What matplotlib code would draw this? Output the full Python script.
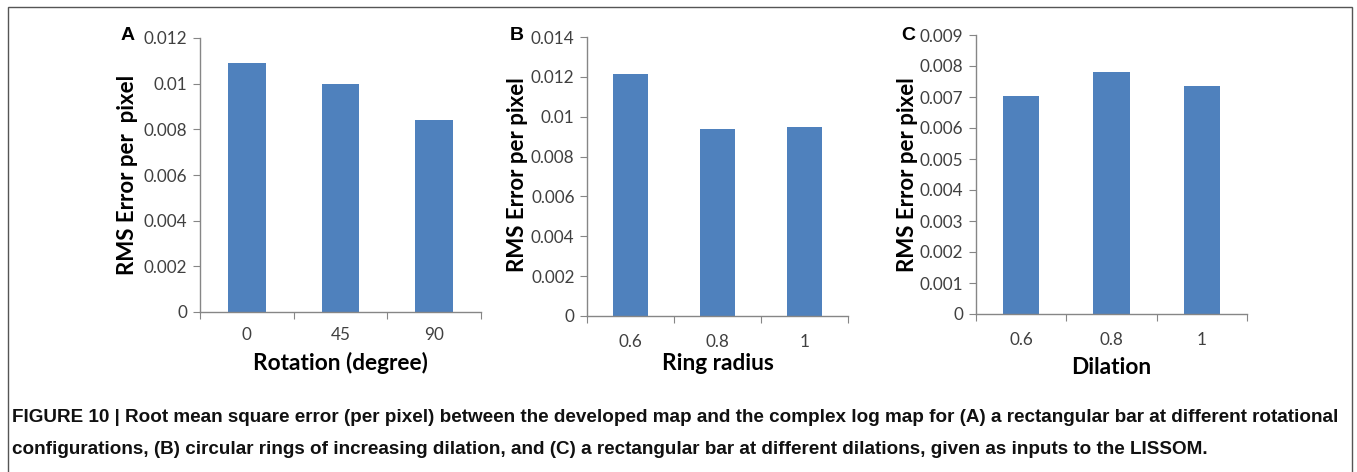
import matplotlib.pyplot as plt
from matplotlib.patches import Rectangle

W, H = 1357, 472

# --- data ---
rot_labels = ["0", "45", "90"]
rot_err = [0.0109, 0.0100, 0.0084]

ring_labels = ["0.6", "0.8", "1"]
ring_err = [0.01213, 0.00937, 0.00946]

dil_labels = ["0.6", "0.8", "1"]
dil_err = [0.00704, 0.00782, 0.00737]

BAR = "#4F81BD"
AXC = "#868686"
TXT = "#404040"
LABEL_FONT = ["Lato", "DejaVu Sans"]

fig = plt.figure(figsize=(W / 100, H / 100), dpi=100)
fig.patch.set_facecolor("white")


def px_axes(x0, x1, ytop, ybot):
    return fig.add_axes([x0 / W, 1 - ybot / H, (x1 - x0) / W, (ybot - ytop) / H])


def panel(ax, labels, vals, ymax, step, ylabel, xlabel, xlab_y, letter, lx, ly, ylx, pad):
    pos = list(range(len(labels)))
    ax.bar(pos, vals, width=0.4, color=BAR, zorder=2)
    ax.set_xlim(-0.5, len(labels) - 0.5)
    ax.set_ylim(0, ymax)
    n = int(round(ymax / step))
    yt = [i * step for i in range(n + 1)]
    ax.set_yticks(yt)
    ax.set_yticklabels(["0" if v == 0 else ("%g" % round(v, 4)) for v in yt],
                       family=LABEL_FONT, fontsize=12.3, color=TXT)
    ax.set_xticks([p - 0.5 for p in pos] + [len(labels) - 0.5])
    ax.set_xticklabels([])
    ax.set_xticks(pos, minor=True)
    ax.set_xticklabels(labels, minor=True, family=LABEL_FONT, fontsize=12.3, color=TXT)
    ax.tick_params(axis="x", which="major", length=5, color=AXC, direction="out")
    ax.tick_params(axis="x", which="minor", length=0, pad=pad)
    ax.tick_params(axis="y", length=5, color=AXC, direction="out", pad=4)
    for s in ["top", "right"]:
        ax.spines[s].set_visible(False)
    for s in ["left", "bottom"]:
        ax.spines[s].set_color(AXC)
        ax.spines[s].set_linewidth(1.0)
    fig.text(ylx / W, 1 - 175 / H, ylabel, rotation=90, ha="center", va="center",
             family=LABEL_FONT, fontweight="bold", fontsize=16, color="black")
    bb = ax.get_position()
    fig.text((bb.x0 + bb.x1) / 2, 1 - xlab_y / H, xlabel, ha="center", va="center",
             family=LABEL_FONT, fontweight="bold", fontsize=16.3, color="black")
    fig.text(lx / W, 1 - ly / H, letter, ha="center", va="center",
             family=["Liberation Sans", "DejaVu Sans"], fontweight="bold", fontsize=14)


axA = px_axes(200, 481, 38, 312)
panel(axA, rot_labels, rot_err, 0.012, 0.002, "RMS Error per  pixel",
      "Rotation (degree)", 363, "A", 128, 35, 128, 11)

axB = px_axes(587, 848, 37, 316)
panel(axB, ring_labels, ring_err, 0.014, 0.002, "RMS Error per pixel",
      "Ring radius", 363, "B", 517, 35, 517, 13)

axC = px_axes(976, 1247, 35, 314)
panel(axC, dil_labels, dil_err, 0.009, 0.001, "RMS Error per pixel",
      "Dilation", 367, "C", 908, 35, 907, 13)

# frame around the figure panel
fig.patches.append(Rectangle((8 / W, -0.05), (1352 - 8) / W, 1.05 - 7 / H,
                             transform=fig.transFigure, fill=False,
                             edgecolor="#555555", linewidth=1.0))

cap1 = ("FIGURE 10 | Root mean square error (per pixel) between the developed map and the "
        "complex log map for (A) a rectangular bar at different rotational")
cap2 = ("configurations, (B) circular rings of increasing dilation, and (C) a rectangular bar "
        "at different dilations, given as inputs to the LISSOM.")
capfont = ["Liberation Sans", "DejaVu Sans"]
fig.text(12 / W, 1 - 418 / H, cap1, ha="left", va="center", family=capfont,
         fontweight="bold", fontsize=13.6, color="#111111")
fig.text(12 / W, 1 - 450 / H, cap2, ha="left", va="center", family=capfont,
         fontweight="bold", fontsize=13.6, color="#111111")

fig.savefig("out.png", dpi=100)
